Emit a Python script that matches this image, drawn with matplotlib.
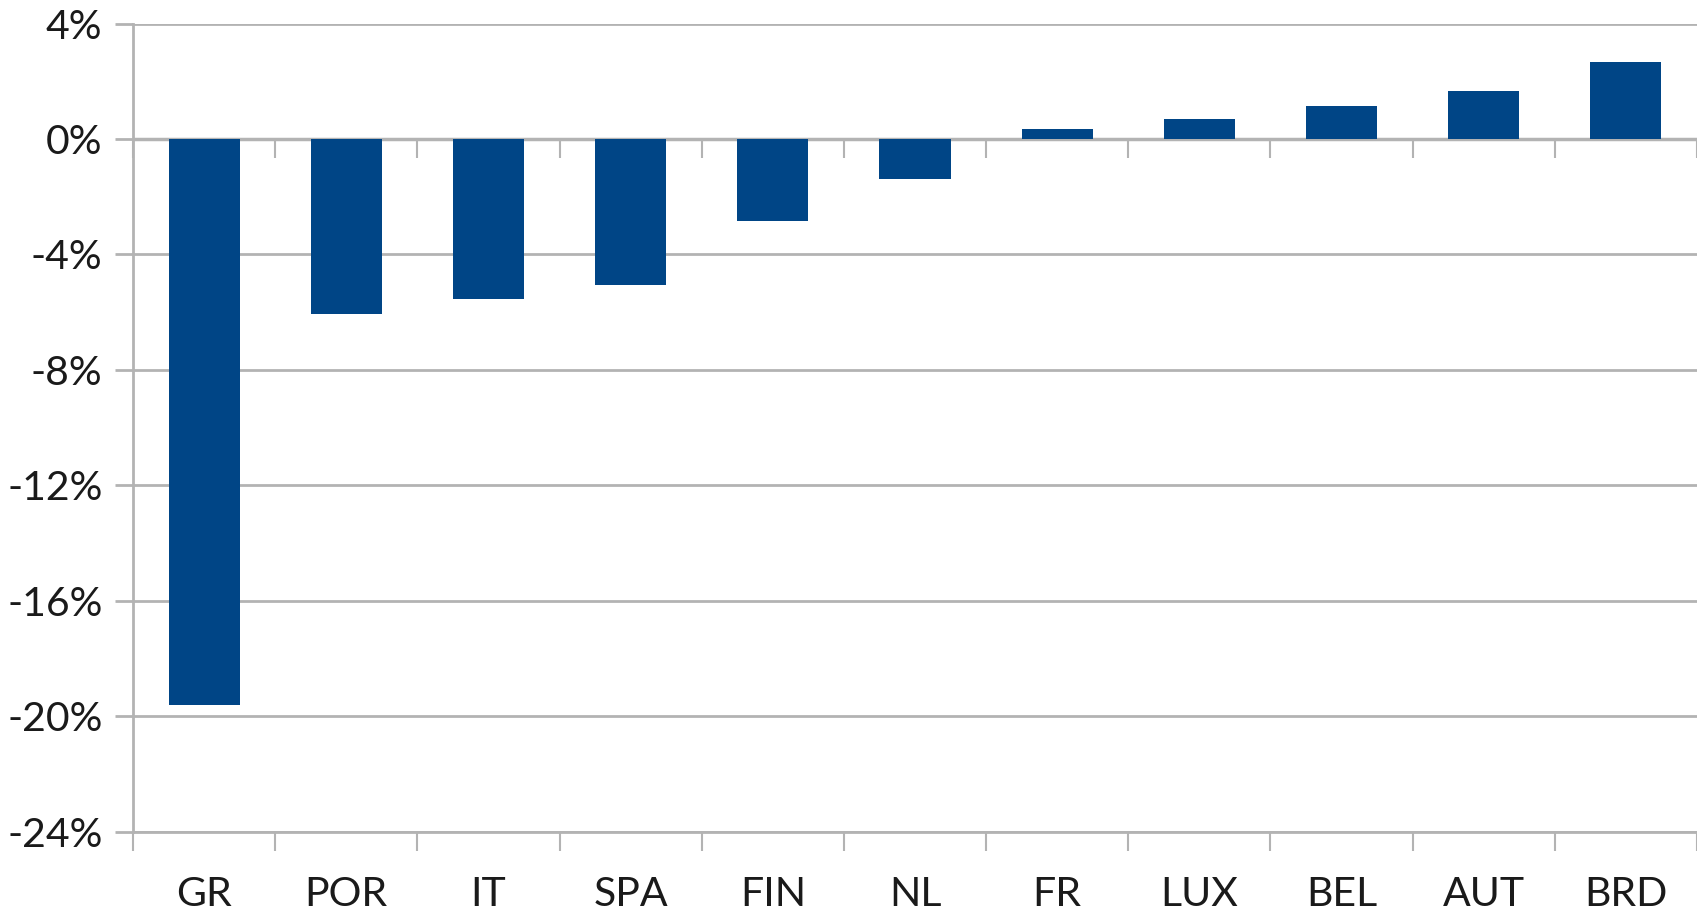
import matplotlib
matplotlib.use('Agg')
import matplotlib.pyplot as plt
import numpy as np

countries = ['GR', 'POR', 'IT', 'SPA', 'FIN', 'NL', 'FR', 'LUX', 'BEL', 'AUT', 'BRD']
values = [-19.6, -6.05, -5.55, -5.05, -2.85, -1.4, 0.35, 0.7, 1.15, 1.65, 2.65]
yticks = [4, 0, -4, -8, -12, -16, -20, -24]

plt.rcParams['font.family'] = 'Lato'
bar_color = '#004586'
grid_color = '#b3b3b3'
text_color = '#1a1a1a'

fig = plt.figure(figsize=(16.97, 9.18), dpi=100)
ax = fig.add_axes([0.0784, 0.0937, 0.9216, 0.8807])

x = np.arange(len(countries))
ax.bar(x, values, width=0.5, color=bar_color, zorder=3)

ax.set_xlim(-0.5, len(countries) - 0.5)
ax.set_ylim(-24, 4)
ax.set_yticks(yticks)
ax.set_yticklabels([f'{v}%' for v in yticks])
ax.yaxis.grid(True, color=grid_color, linewidth=2)
ax.set_axisbelow(True)

# category labels at bar centres, tick marks at the boundaries
ax.set_xticks(x)
ax.set_xticklabels(countries)
ax.set_xticks(np.arange(-0.5, len(countries)), minor=True)
ax.tick_params(axis='x', which='major', length=0, pad=32, labelsize=29.5, labelcolor=text_color)
ax.tick_params(axis='x', which='minor', length=14, width=1.5, color=grid_color)
ax.tick_params(axis='y', length=13, width=2, color=grid_color, pad=9, labelsize=29.5, labelcolor=text_color)

for s in ['top', 'right']:
    ax.spines[s].set_visible(False)
for s in ['left', 'bottom']:
    ax.spines[s].set_color(grid_color)
    ax.spines[s].set_linewidth(2)

# category axis crossing at zero
ax2 = ax.twiny()
ax2.set_xlim(ax.get_xlim())
ax2.xaxis.set_ticks_position('bottom')
ax2.spines['bottom'].set_position(('data', 0))
ax2.set_xticks(np.arange(-0.5, len(countries)))
ax2.set_xticklabels([])
ax2.tick_params(axis='x', length=14, width=1.5, color=grid_color)
for s in ax2.spines.values():
    s.set_visible(False)
ax.axhline(0, color=grid_color, linewidth=2.5, zorder=2)

fig.savefig('out.png', dpi=100)
